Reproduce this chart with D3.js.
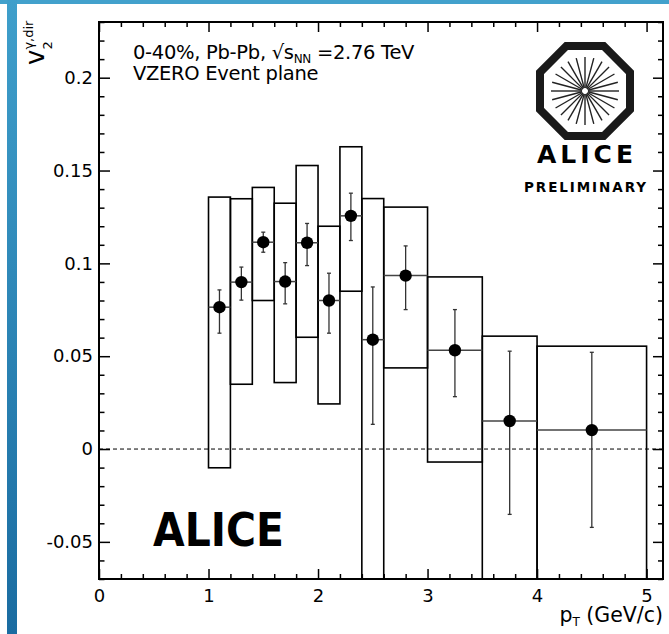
<!DOCTYPE html>
<html>
<head>
<meta charset="utf-8">
<script src="https://cdn.jsdelivr.net/npm/d3@7"></script>
<style>
  html, body { margin: 0; padding: 0; background: #fff; }
  svg { display: block; }
  text { font-family: "DejaVu Sans", sans-serif; fill: #000; }
</style>
</head>
<body>
<svg id="chart" width="669" height="634"></svg>
<script>
// Direct-photon v2 vs pT, 0-40% Pb-Pb at 2.76 TeV (VZERO event plane)
const binLow    = [1.0, 1.2, 1.4, 1.6, 1.8, 2.0, 2.2, 2.4, 2.6, 3.0, 3.5, 4.0];
const binHigh   = [1.2, 1.4, 1.6, 1.8, 2.0, 2.2, 2.4, 2.6, 3.0, 3.5, 4.0, 5.0];
const ptCenter  = [1.1, 1.3, 1.5, 1.7, 1.9, 2.1, 2.3, 2.5, 2.8, 3.25, 3.75, 4.5];
const v2        = [0.0764, 0.0899, 0.1114, 0.0902, 0.1111, 0.0800, 0.1256, 0.0589, 0.0934, 0.0532, 0.0151, 0.0102];
// statistical error bar ends
const statLow   = [0.0624, 0.0802, 0.1060, 0.0782, 0.0988, 0.0624, 0.1123, 0.0133, 0.0751, 0.0282, -0.0352, -0.0422];
const statHigh  = [0.0857, 0.0980, 0.1168, 0.1004, 0.1215, 0.0947, 0.1378, 0.0873, 0.1094, 0.0751, 0.0527, 0.0521];
// systematic box edges
const sysLow    = [-0.0101, 0.0349, 0.0800, 0.0358, 0.0602, 0.0243, 0.0850, -0.1000, 0.0437, -0.0070, -0.1000, -0.1000];
const sysHigh   = [0.1357, 0.1348, 0.1409, 0.1324, 0.1527, 0.1200, 0.1628, 0.1349, 0.1303, 0.0927, 0.0608, 0.0554];

const xTicks      = [0, 1, 2, 3, 4, 5];
const xTickLabels = ["0", "1", "2", "3", "4", "5"];
const yTicks      = [-0.05, 0, 0.05, 0.1, 0.15, 0.2];
const yTickLabels = ["-0.05", "0", "0.05", "0.1", "0.15", "0.2"];

const W = 669, H = 634;
const frame = { left: 99, right: 663, top: 22, bottom: 579 };

const svg = d3.select("#chart");

// page decoration: blue strips
const defs = svg.append("defs");
const grad = defs.append("linearGradient").attr("id", "stripGrad")
  .attr("x1", 0).attr("y1", 0).attr("x2", 0).attr("y2", 1);
grad.append("stop").attr("offset", "0%").attr("stop-color", "#3f9fcb");
grad.append("stop").attr("offset", "100%").attr("stop-color", "#1a6ca1");
svg.append("rect").attr("x", 0).attr("y", 0).attr("width", W).attr("height", 4).attr("fill", "#42a1cc");
svg.append("rect").attr("x", 7).attr("y", 0).attr("width", 10).attr("height", H).attr("fill", "url(#stripGrad)");

const x = d3.scaleLinear().domain([0, 5.15]).range([frame.left, frame.right]);
const y = d3.scaleLinear().domain([-0.07, 0.23]).range([frame.bottom, frame.top]);

defs.append("clipPath").attr("id", "plotClip")
  .append("rect")
  .attr("x", frame.left).attr("y", frame.top)
  .attr("width", frame.right - frame.left).attr("height", frame.bottom - frame.top);

const plot = svg.append("g").attr("clip-path", "url(#plotClip)");

// zero line
plot.append("line")
  .attr("x1", x(0)).attr("x2", frame.right)
  .attr("y1", y(0)).attr("y2", y(0))
  .attr("stroke", "#000").attr("stroke-width", 1)
  .attr("stroke-dasharray", "4,3");

const idx = d3.range(v2.length);

// systematic boxes
plot.selectAll("rect.sys").data(idx).join("rect")
  .attr("class", "sys")
  .attr("x", i => x(binLow[i]))
  .attr("width", i => x(binHigh[i]) - x(binLow[i]))
  .attr("y", i => y(sysHigh[i]))
  .attr("height", i => y(sysLow[i]) - y(sysHigh[i]))
  .attr("fill", "none").attr("stroke", "#000").attr("stroke-width", 1.6);

// central value across the bin
plot.selectAll("line.central").data(idx).join("line")
  .attr("class", "central")
  .attr("x1", i => x(binLow[i])).attr("x2", i => x(binHigh[i]))
  .attr("y1", i => y(v2[i])).attr("y2", i => y(v2[i]))
  .attr("stroke", "#444").attr("stroke-width", 1.5);

// statistical error bars
const eb = plot.selectAll("g.err").data(idx).join("g").attr("class", "err")
  .attr("stroke", "#333").attr("stroke-width", 1.3);
eb.append("line")
  .attr("x1", i => x(ptCenter[i])).attr("x2", i => x(ptCenter[i]))
  .attr("y1", i => y(statLow[i])).attr("y2", i => y(statHigh[i]));
eb.append("line")
  .attr("x1", i => x(ptCenter[i]) - 2).attr("x2", i => x(ptCenter[i]) + 2)
  .attr("y1", i => y(statLow[i])).attr("y2", i => y(statLow[i]));
eb.append("line")
  .attr("x1", i => x(ptCenter[i]) - 2).attr("x2", i => x(ptCenter[i]) + 2)
  .attr("y1", i => y(statHigh[i])).attr("y2", i => y(statHigh[i]));

// markers
plot.selectAll("circle.pt").data(idx).join("circle")
  .attr("class", "pt")
  .attr("cx", i => x(ptCenter[i])).attr("cy", i => y(v2[i]))
  .attr("r", 6.2).attr("fill", "#000");

// axes with inward ticks on all four sides
const xMinor = d3.range(0, 5.15, 0.2).filter(v => Math.abs(v - Math.round(v)) > 1e-6);
const yMinor = d3.range(-0.07, 0.2301, 0.01).filter(v => Math.abs(v / 0.05 - Math.round(v / 0.05)) > 1e-6);

function styleAxis(g) {
  g.select(".domain").remove();
  g.selectAll(".tick line").attr("stroke", "#000").attr("stroke-width", 1.5);
  g.selectAll(".tick text").attr("font-size", 18).attr("font-family", "DejaVu Sans, sans-serif").attr("fill", "#000");
}

svg.append("g").attr("transform", `translate(0,${frame.bottom})`)
  .call(d3.axisBottom(x).tickValues(xTicks).tickSize(-10).tickPadding(10)
    .tickFormat((d, i) => xTickLabels[i])).call(styleAxis);
svg.append("g").attr("transform", `translate(0,${frame.bottom})`)
  .call(d3.axisBottom(x).tickValues(xMinor).tickSize(-5).tickFormat("")).call(styleAxis);
svg.append("g").attr("transform", `translate(0,${frame.top})`)
  .call(d3.axisTop(x).tickValues(xTicks).tickSize(-10).tickFormat("")).call(styleAxis);
svg.append("g").attr("transform", `translate(0,${frame.top})`)
  .call(d3.axisTop(x).tickValues(xMinor).tickSize(-5).tickFormat("")).call(styleAxis);

svg.append("g").attr("transform", `translate(${frame.left},0)`)
  .call(d3.axisLeft(y).tickValues(yTicks).tickSize(-11).tickPadding(6)
    .tickFormat((d, i) => yTickLabels[i])).call(styleAxis);
svg.append("g").attr("transform", `translate(${frame.left},0)`)
  .call(d3.axisLeft(y).tickValues(yMinor).tickSize(-5.5).tickFormat("")).call(styleAxis);
svg.append("g").attr("transform", `translate(${frame.right},0)`)
  .call(d3.axisRight(y).tickValues(yTicks).tickSize(-10).tickFormat("")).call(styleAxis);
svg.append("g").attr("transform", `translate(${frame.right},0)`)
  .call(d3.axisRight(y).tickValues(yMinor).tickSize(-5).tickFormat("")).call(styleAxis);

// frame
svg.append("rect")
  .attr("x", frame.left).attr("y", frame.top)
  .attr("width", frame.right - frame.left).attr("height", frame.bottom - frame.top)
  .attr("fill", "none").attr("stroke", "#000").attr("stroke-width", 2);

// axis titles
const xt = svg.append("text").attr("x", frame.right).attr("y", 622)
  .attr("text-anchor", "end").attr("font-size", 20.5);
xt.append("tspan").text("p");
xt.append("tspan").attr("font-size", 12).attr("dy", 4).text("T");
xt.append("tspan").attr("dy", -4).text(" (GeV/c)");

const yt = svg.append("text").attr("transform", "translate(44,65) rotate(-90)")
  .attr("font-size", 26);
yt.append("tspan").text("v");
const sub2 = yt.append("tspan").attr("font-size", 13).attr("dy", 8).text("2");
const subW = sub2.node().getComputedTextLength();
yt.append("tspan").attr("font-size", 13).attr("dx", -subW).attr("dy", -19).text("γ,dir");

// labels
const l1 = svg.append("text").attr("x", 133).attr("y", 59).attr("font-size", 19.5)
  .attr("letter-spacing", -0.3);
l1.append("tspan").text("0-40%, Pb-Pb, √s");
l1.append("tspan").attr("font-size", 12).attr("dy", 4).text("NN");
l1.append("tspan").attr("dy", -4).text(" =2.76 TeV");
svg.append("text").attr("x", 133).attr("y", 80).attr("font-size", 19.5)
  .attr("letter-spacing", -0.3).text("VZERO Event plane");

svg.append("text").attr("x", 153).attr("y", 546)
  .attr("font-family", "Lato, 'Open Sans', sans-serif").attr("font-weight", 900)
  .attr("font-size", 46).attr("textLength", 131).attr("lengthAdjust", "spacingAndGlyphs")
  .text("ALICE");

// experiment logo
const logo = svg.append("g").attr("transform", "translate(585,91)");
const apothem = 45, R = apothem / Math.cos(Math.PI / 8);
const octo = d3.range(8).map(k => {
  const a = Math.PI / 8 + k * Math.PI / 4;
  return [R * Math.cos(a), R * Math.sin(a)];
});
logo.append("path").attr("d", d3.line()(octo) + "Z")
  .attr("fill", "none").attr("stroke", "#1a1a1a").attr("stroke-width", 8)
  .attr("stroke-linejoin", "miter");
const spokes = d3.range(24);
logo.selectAll("line.spoke").data(spokes).join("line")
  .attr("class", "spoke")
  .attr("x1", k => 3 * Math.cos(k * Math.PI / 12)).attr("y1", k => 3 * Math.sin(k * Math.PI / 12))
  .attr("x2", k => 34 * Math.cos(k * Math.PI / 12)).attr("y2", k => 34 * Math.sin(k * Math.PI / 12))
  .attr("stroke", "#222").attr("stroke-width", 1.4);
svg.append("text").attr("x", 585).attr("y", 163).attr("text-anchor", "middle")
  .attr("font-family", "'DejaVu Sans Mono', monospace").attr("font-weight", "bold")
  .attr("font-size", 25).attr("textLength", 96).attr("lengthAdjust", "spacing")
  .attr("fill", "#222").text("ALICE");
svg.append("text").attr("x", 585).attr("y", 192).attr("text-anchor", "middle")
  .attr("font-family", "'DejaVu Sans Mono', monospace").attr("font-weight", "bold")
  .attr("font-size", 13.5).attr("textLength", 122).attr("lengthAdjust", "spacing")
  .attr("fill", "#222").text("PRELIMINARY");
</script>
</body>
</html>
